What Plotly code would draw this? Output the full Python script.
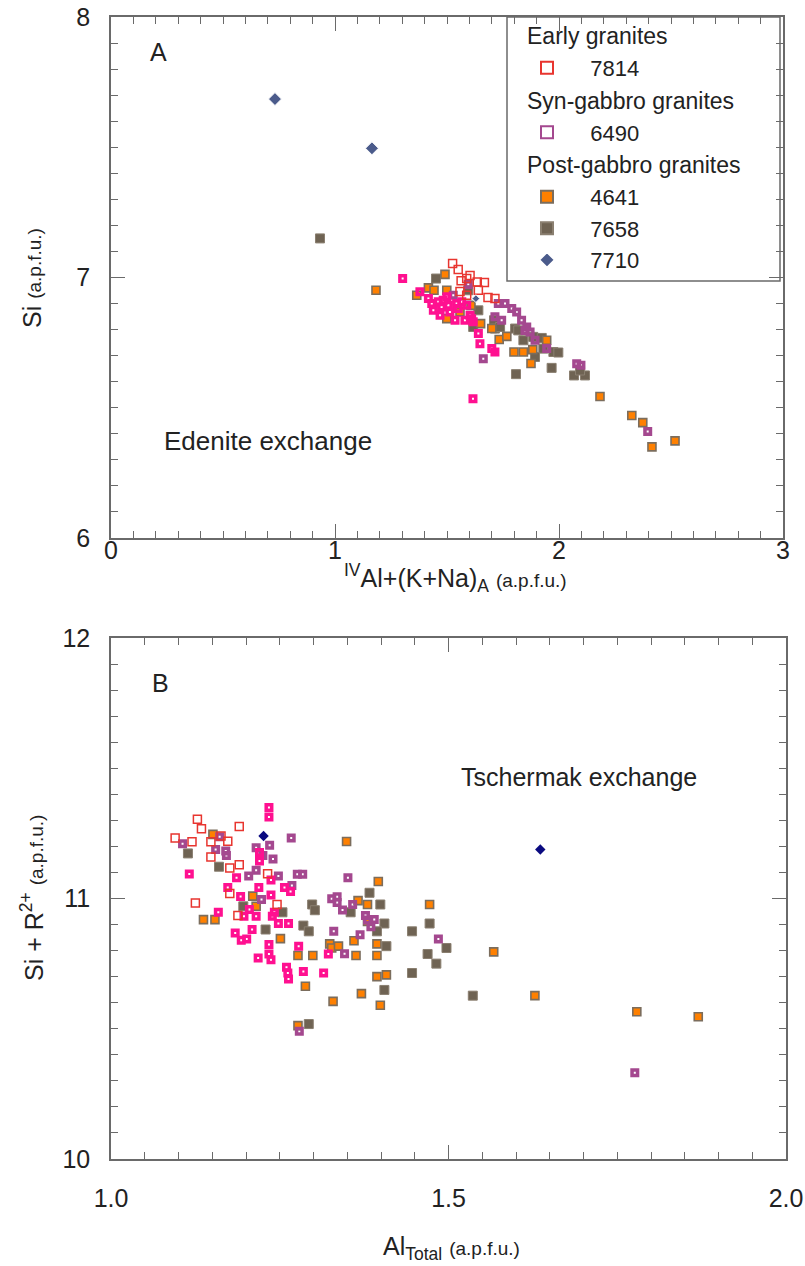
import plotly.graph_objects as go

# ---------------- Panel A data: IVAl+(K+Na)A vs Si ----------------
a_7814_x = [1.525, 1.550, 1.563, 1.588, 1.603, 1.635, 1.667, 1.558, 1.640, 1.683, 1.714, 1.588]
a_7814_y = [7.054, 7.031, 6.988, 6.996, 7.008, 6.983, 6.981, 6.946, 6.951, 6.923, 6.919, 6.932]

a_pink_x = [1.302, 1.379, 1.417, 1.432, 1.439, 1.461, 1.476, 1.469, 1.499, 1.506, 1.513, 1.536, 1.543,
            1.566, 1.580, 1.603, 1.610, 1.617, 1.640, 1.647, 1.700, 1.714, 1.483, 1.588, 1.550, 1.616]
a_pink_y = [6.996, 6.945, 6.919, 6.900, 6.874, 6.907, 6.887, 6.855, 6.926, 6.893, 6.868, 6.836, 6.900,
            6.907, 6.836, 6.855, 6.842, 6.830, 6.785, 6.746, 6.727, 6.714, 6.913, 6.893, 6.881, 6.535]

a_6490_x = [1.595, 1.528, 1.729, 1.759, 1.789, 1.811, 1.714, 1.744, 1.833, 1.856, 1.848, 1.871, 1.893,
            1.945, 1.662, 2.079, 2.098, 2.396]
a_6490_y = [6.973, 6.932, 6.900, 6.900, 6.881, 6.868, 6.849, 6.836, 6.836, 6.810, 6.797, 6.791, 6.759,
            6.727, 6.688, 6.669, 6.663, 6.409]

a_4641_x = [1.183, 1.491, 1.417, 1.442, 1.499, 1.365, 1.558, 1.607, 1.650, 1.700, 1.733, 1.767, 1.799,
            1.841, 1.883, 1.875, 1.945, 1.499, 2.183, 2.325, 2.374, 2.415, 2.518]
a_4641_y = [6.951, 7.012, 6.960, 6.951, 6.951, 6.932, 6.868, 6.893, 6.823, 6.804, 6.762, 6.774, 6.714,
            6.714, 6.723, 6.670, 6.759, 6.842, 6.543, 6.470, 6.443, 6.350, 6.373]

a_7658_x = [0.933, 1.451, 1.595, 1.640, 1.617, 1.710, 1.714, 1.737, 1.804, 1.818, 1.841, 1.885, 1.923,
            1.930, 1.975, 1.997, 1.893, 1.967, 1.808, 2.067, 2.116, 2.094]
a_7658_y = [7.150, 6.996, 6.951, 6.874, 6.810, 6.836, 6.804, 6.810, 6.804, 6.797, 6.759, 6.772, 6.768,
            6.727, 6.714, 6.712, 6.695, 6.653, 6.629, 6.624, 6.624, 6.643]

a_7710_x = [0.732, 1.165, 1.629]
a_7710_y = [7.685, 7.496, 6.919]

# ---------------- Panel B data: AlTotal vs Si + R2+ ----------------
b_7814_x = [1.095, 1.128, 1.134, 1.120, 1.148, 1.148, 1.176, 1.190, 1.190, 1.173, 1.163, 1.176, 1.125,
            1.188, 1.232, 1.246]
b_7814_y = [11.232, 11.304, 11.268, 11.218, 11.218, 11.159, 11.117, 11.276, 11.130, 11.220, 11.240,
            11.019, 10.983, 10.935, 11.095, 10.977]

b_pink_x = [1.234, 1.234, 1.220, 1.220, 1.116, 1.186, 1.173, 1.192, 1.219, 1.237, 1.237, 1.257, 1.266,
            1.159, 1.205, 1.197, 1.215, 1.242, 1.239, 1.248, 1.263, 1.209, 1.184, 1.193, 1.201, 1.234,
            1.278, 1.218, 1.234, 1.237, 1.260, 1.262, 1.263, 1.285, 1.315, 1.322]
b_pink_y = [11.349, 11.313, 11.177, 11.144, 11.094, 11.080, 11.042, 11.008, 11.042, 11.071, 11.013,
            11.042, 11.027, 10.947, 10.958, 10.932, 10.932, 10.947, 10.932, 10.904, 10.904, 10.881,
            10.868, 10.840, 10.845, 10.823, 10.817, 10.772, 10.787, 10.765, 10.736, 10.714, 10.691,
            10.720, 10.714, 10.787]

b_6490_x = [1.106, 1.161, 1.155, 1.170, 1.171, 1.215, 1.225, 1.235, 1.240, 1.215, 1.204, 1.248, 1.223,
            1.267, 1.268, 1.276, 1.284, 1.351, 1.327, 1.335, 1.335, 1.343, 1.358, 1.330, 1.346, 1.369,
            1.377, 1.380, 1.390, 1.385, 1.279, 1.485, 1.776]
b_6490_y = [11.210, 11.237, 11.188, 11.182, 11.165, 11.195, 11.165, 11.204, 11.152, 11.108, 11.086,
            11.086, 10.996, 11.232, 11.050, 11.093, 11.093, 11.080, 10.999, 11.007, 10.985, 10.956,
            10.977, 10.874, 10.788, 10.861, 10.935, 10.917, 10.919, 10.892, 10.490, 10.845, 10.331]

b_4641_x = [1.151, 1.137, 1.154, 1.210, 1.215, 1.251, 1.277, 1.299, 1.288, 1.329, 1.277, 1.324, 1.327,
            1.337, 1.349, 1.396, 1.366, 1.380, 1.380, 1.360, 1.394, 1.363, 1.394, 1.394, 1.408, 1.371,
            1.399, 1.472, 1.567, 1.628, 1.779, 1.870]
b_4641_y = [11.246, 10.919, 10.919, 11.009, 10.970, 10.846, 10.781, 10.781, 10.663, 10.605, 10.512,
            10.826, 10.810, 10.817, 11.219, 11.065, 10.992, 10.977, 10.912, 10.838, 10.826, 10.781,
            10.781, 10.700, 10.707, 10.635, 10.590, 10.977, 10.795, 10.627, 10.565, 10.546]

b_7658_x = [1.114, 1.160, 1.196, 1.254, 1.229, 1.298, 1.302, 1.285, 1.293, 1.355, 1.383, 1.399, 1.405,
            1.394, 1.408, 1.446, 1.472, 1.469, 1.482, 1.497, 1.446, 1.405, 1.293, 1.536]
b_7658_y = [11.173, 11.122, 10.970, 10.947, 10.881, 10.977, 10.955, 10.896, 10.874, 10.947, 11.022,
            10.977, 10.904, 10.874, 10.817, 10.874, 10.904, 10.787, 10.750, 10.810, 10.714, 10.649,
            10.518, 10.627]

b_7710_x = [1.226, 1.636]
b_7710_y = [11.240, 11.188]

# ---------------- styling ----------------
W, H = 805, 1266
FONT = "Liberation Sans, Arial, sans-serif"
TXT = "#222222"
AX = "#6a6a6a"

RED = "#e8352f"
PINK = "#ff1090"
PURPLE = "#a4488f"
ORANGE = "#ff8000"
ORANGE_EDGE = "#7b6d5d"
BROWN = "#6f6353"
SLATE = "#4b5b8b"
NAVY = "#0a0a80"
NB = "\u00a0"


def px(x):
    return x / W


def py(y):
    return 1 - y / H


fig = go.Figure()


def add_series(xs, ys, xa, ya, name, marker, show, group=None, gtitle=None, rank=None):
    kw = dict(x=xs, y=ys, mode="markers", name=NB * 3 + name, marker=dict(opacity=1, **marker),
              xaxis=xa, yaxis=ya, showlegend=show)
    if group:
        kw["legendgroup"] = group
    if gtitle and show:
        kw["legendgrouptitle"] = dict(text=gtitle, font=dict(size=23, color=TXT, family=FONT))
    if rank is not None:
        kw["legendrank"] = rank
    fig.add_trace(go.Scatter(**kw))


m_7658 = dict(symbol="square", size=9, color=BROWN, line=dict(color="#8a7f70", width=1))
m_4641 = dict(symbol="square", size=8, color=ORANGE, line=dict(color=ORANGE_EDGE, width=1.6))
m_6490 = dict(symbol="square-open", size=5.5, color=PURPLE, line=dict(width=3.5))
m_pink = dict(symbol="square-open", size=5.5, color=PINK, line=dict(width=3.5))
m_7814 = dict(symbol="square-open", size=8, color=RED, line=dict(width=1.5))
m_7710a = dict(symbol="diamond", size=[10, 10, 6], color=SLATE)
m_7710b = dict(symbol="diamond", size=8, color=NAVY)

# panel A (legend)
add_series(a_7658_x, a_7658_y, "x", "y", "7658", m_7658, True, "post", None, 4)
add_series(a_4641_x, a_4641_y, "x", "y", "4641", m_4641, True, "post", "Post-gabbro granites", 3)
add_series(a_6490_x, a_6490_y, "x", "y", "6490", m_6490, True, "syn", "Syn-gabbro granites", 2)
add_series(a_pink_x, a_pink_y, "x", "y", "pink", m_pink, False)
add_series(a_7814_x, a_7814_y, "x", "y", "7814", m_7814, True, "early", "Early granites", 1)
add_series(a_7710_x, a_7710_y, "x", "y", "7710", m_7710a, True, "post", None, 5)

# panel B
add_series(b_7658_x, b_7658_y, "x2", "y2", "7658", m_7658, False)
add_series(b_4641_x, b_4641_y, "x2", "y2", "4641", m_4641, False)
add_series(b_6490_x, b_6490_y, "x2", "y2", "6490", m_6490, False)
add_series(b_pink_x, b_pink_y, "x2", "y2", "pink", m_pink, False)
add_series(b_7814_x, b_7814_y, "x2", "y2", "7814", m_7814, False)
add_series(b_7710_x, b_7710_y, "x2", "y2", "7710", m_7710b, False)


def axis(rng, dtick, minor, domain, anchor, fmt=None, standoff=6):
    d = dict(range=rng, dtick=dtick, tick0=rng[0], domain=domain, anchor=anchor,
             automargin=False, ticklabeloverflow="allow",
             showgrid=False, zeroline=False, showline=True, linecolor=AX, linewidth=1.5,
             mirror="ticks", ticks="inside", ticklen=14, tickwidth=1.3, tickcolor=AX,
             minor=dict(dtick=minor, ticks="inside", ticklen=7, tickwidth=1.2, tickcolor=AX,
                        showgrid=False),
             tickfont=dict(size=25, color=TXT, family=FONT), ticklabelstandoff=standoff,
             fixedrange=True)
    if fmt:
        d["tickformat"] = fmt
    return d


fig.update_layout(
    width=W, height=H,
    margin=dict(l=0, r=0, t=0, b=0, autoexpand=False),
    paper_bgcolor="white", plot_bgcolor="white",
    font=dict(family=FONT, color=TXT),
    xaxis=axis([0, 3], 1, 0.1, [px(111), px(783)], "y", standoff=-11),
    yaxis=axis([6, 8], 1, 0.1, [py(538), py(17)], "x", standoff=14),
    xaxis2=axis([1.0, 2.0], 0.5, 0.05, [px(111), px(786)], "y2", fmt=".1f", standoff=16),
    yaxis2=axis([10, 12], 1, 0.1, [py(1159), py(638)], "x2", standoff=14),
    legend=dict(x=px(522), y=py(14), xanchor="left", yanchor="top",
                bgcolor="rgba(0,0,0,0)", borderwidth=0,
                font=dict(size=22, color=TXT, family=FONT),
                grouptitlefont=dict(size=23, color=TXT, family=FONT),
                tracegroupgap=0, itemsizing="constant", traceorder="grouped",
                itemwidth=40),
    shapes=[dict(type="rect", xref="paper", yref="paper",
                 x0=px(507), x1=px(780), y0=py(281), y1=py(17),
                 line=dict(color=AX, width=1.5), fillcolor="rgba(0,0,0,0)", layer="above")],
)

ann = [
    dict(text="A", x=px(148), y=py(52), size=25),
    dict(text="Edenite exchange", x=px(162), y=py(441), size=26),
    dict(text="B", x=px(150), y=py(683), size=25),
    dict(text="Tschermak exchange", x=px(459), y=py(777), size=25),
    dict(text="<sup>IV</sup>Al+(K+Na)<sub>A</sub> <span style='font-size:19px'>(a.p.f.u.)</span>",
         x=px(342), y=py(578), size=25),
    dict(text="Al<sub>Total</sub> <span style='font-size:19px'>(a.p.f.u.)</span>",
         x=px(381), y=py(1248), size=25),
]
for a in ann:
    fig.add_annotation(text=a["text"], x=a["x"], y=a["y"], xref="paper", yref="paper",
                       showarrow=False, xanchor="left", yanchor="middle",
                       font=dict(size=a["size"], color=TXT, family=FONT))

for txt, yy in [("Si <span style='font-size:19px'>(a.p.f.u.)</span>", 278),
                ("Si + R<sup>2+</sup> <span style='font-size:19px'>(a.p.f.u.)</span>", 898)]:
    fig.add_annotation(text=txt, x=px(32), y=py(yy), xref="paper", yref="paper",
                       showarrow=False, xanchor="center", yanchor="middle", textangle=-90,
                       font=dict(size=25, color=TXT, family=FONT))

fig.write_html("out.html")
